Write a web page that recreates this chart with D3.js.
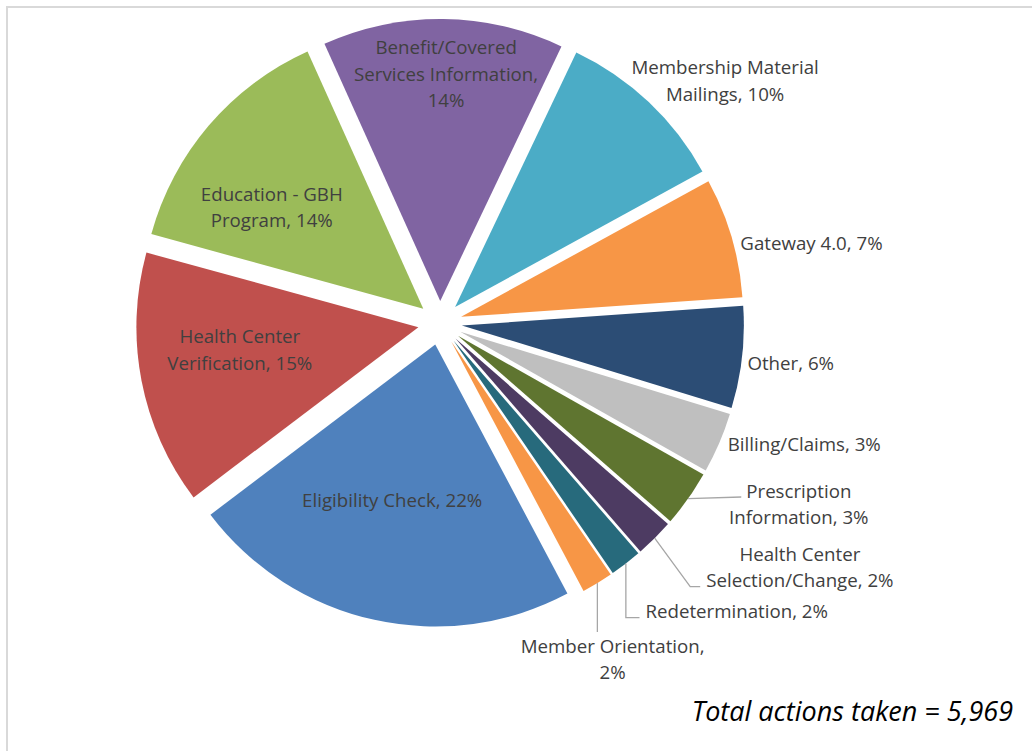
<!DOCTYPE html>
<html>
<head>
<meta charset="utf-8">
<script src="https://cdn.jsdelivr.net/npm/d3@7"></script>
<style>
  body { margin: 0; background: #fff; }
  text { font-family: "Open Sans", sans-serif; }
</style>
</head>
<body>
<script>
const categories = ['Eligibility Check', 'Health Center Verification', 'Education - GBH Program',
  'Benefit/Covered Services Information', 'Membership Material Mailings', 'Gateway 4.0', 'Other',
  'Billing/Claims', 'Prescription Information', 'Health Center Selection/Change',
  'Redetermination', 'Member Orientation']
const counts = [1340, 870, 836, 824, 594, 410, 348, 207, 193, 131, 109, 107]
const colors = ['#4f81bd', '#c0504d', '#9bbb59', '#8064a2', '#4bacc6', '#f79646', '#2c4d75',
  '#bfbfbf', '#5f7530', '#4d3b62', '#276a7c', '#f79646']
// how each label wraps, {p} is the percentage
const labelText = ['Eligibility Check, {p}', 'Health Center\nVerification, {p}', 'Education - GBH\nProgram, {p}',
  'Benefit/Covered\nServices Information,\n{p}', 'Membership Material\nMailings, {p}', 'Gateway 4.0, {p}',
  'Other, {p}', 'Billing/Claims, {p}', 'Prescription\nInformation, {p}', 'Health Center\nSelection/Change, {p}',
  'Redetermination, {p}', 'Member Orientation,\n{p}']
const total = 5969

const width = 1032
const height = 751
const cx = 440, cy = 323, R = 282, explode = 22
const startDeg = 152.05
// label placement: radius from centre and turn from slice middle (deg)
const labelR = [184, 202, 204, 249, 374, 380, 353, 384, 402, 435, 414, 378]
const labelTurn = [2.6, 3.2, -6.1, 0.8, 6.3, 4.2, 0, -4.8, -8.5, -10.9, -8.1, 4.0]
const leader = [null, null, null, null, null, null, null, null, 'straight', 'elbow', 'corner', 'down']
const lineH = 26.5

const svg = d3.select('body').append('svg')
  .attr('width', width)
  .attr('height', height)

svg.append('rect')
  .attr('x', 7).attr('y', 7)
  .attr('width', width + 20).attr('height', height + 20)
  .attr('fill', '#fff')
  .attr('stroke', '#d9d9d9')
  .attr('stroke-width', 2)

const data = categories.map((c, i) => ({name: c, count: counts[i], color: colors[i], i: i}))
const a0 = startDeg * Math.PI / 180
const pie = d3.pie().sort(null).value(d => d.count).startAngle(a0).endAngle(a0 + 2 * Math.PI)
const arc = d3.arc().innerRadius(0).outerRadius(R)
const slices = pie(data)
const mid = d => (d.startAngle + d.endAngle) / 2
const pol = (a, r) => [cx + r * Math.sin(a), cy - r * Math.cos(a)]

const g = svg.append('g')
g.selectAll('path')
  .data(slices)
  .enter()
  .append('path')
  .attr('d', arc)
  .attr('fill', d => d.data.color)
  .attr('transform', d => {
    const p = pol(mid(d), explode)
    return `translate(${p[0]},${p[1]})`
  })

const fmt = d => Math.round(d.count / total * 100) + '%'

const labels = svg.append('g')
const leaders = svg.append('g')
slices.forEach(d => {
  const i = d.data.i
  const lines = labelText[i].replace('{p}', fmt(d.data)).split('\n')
  const pos = pol(mid(d) + labelTurn[i] * Math.PI / 180, labelR[i])
  const y0 = pos[1] - (lines.length - 1) / 2 * lineH
  const t = labels.append('text')
    .attr('fill', '#404040')
    .attr('font-size', 18.7)
    .attr('text-anchor', 'middle')
  const spans = lines.map((s, k) => t.append('tspan')
    .attr('x', pos[0])
    .attr('y', y0 + k * lineH)
    .attr('dy', '0.35em')
    .text(s))
  if (!leader[i]) return
  const start = pol(mid(d), R + explode)
  const wFirst = spans[0].node().getComputedTextLength()
  const wLast = spans[spans.length - 1].node().getComputedTextLength()
  const yLast = y0 + (lines.length - 1) * lineH
  let pts
  if (leader[i] === 'straight') {
    pts = [start, [pos[0] - wFirst / 2 - 5, y0 + 6]]
  } else if (leader[i] === 'elbow') {
    const e = [pos[0] - wLast / 2 - 6, yLast + 6]
    pts = [start, [e[0] - 10, e[1]], e]
  } else if (leader[i] === 'corner') {
    const e = [pos[0] - wLast / 2 - 6, yLast + 6]
    pts = [start, [start[0], e[1]], e]
  } else {
    pts = [start, [start[0], y0 - 14]]
  }
  leaders.append('path')
    .attr('d', d3.line()(pts))
    .attr('fill', 'none')
    .attr('stroke', '#a6a6a6')
    .attr('stroke-width', 1.3)
})

svg.append('text')
  .attr('x', 1013)
  .attr('y', 712)
  .attr('dy', '0.35em')
  .attr('text-anchor', 'end')
  .attr('font-size', 27)
  .attr('font-style', 'italic')
  .attr('fill', '#000')
  .text('Total actions taken = ' + d3.format(',')(total))
</script>
</body>
</html>
